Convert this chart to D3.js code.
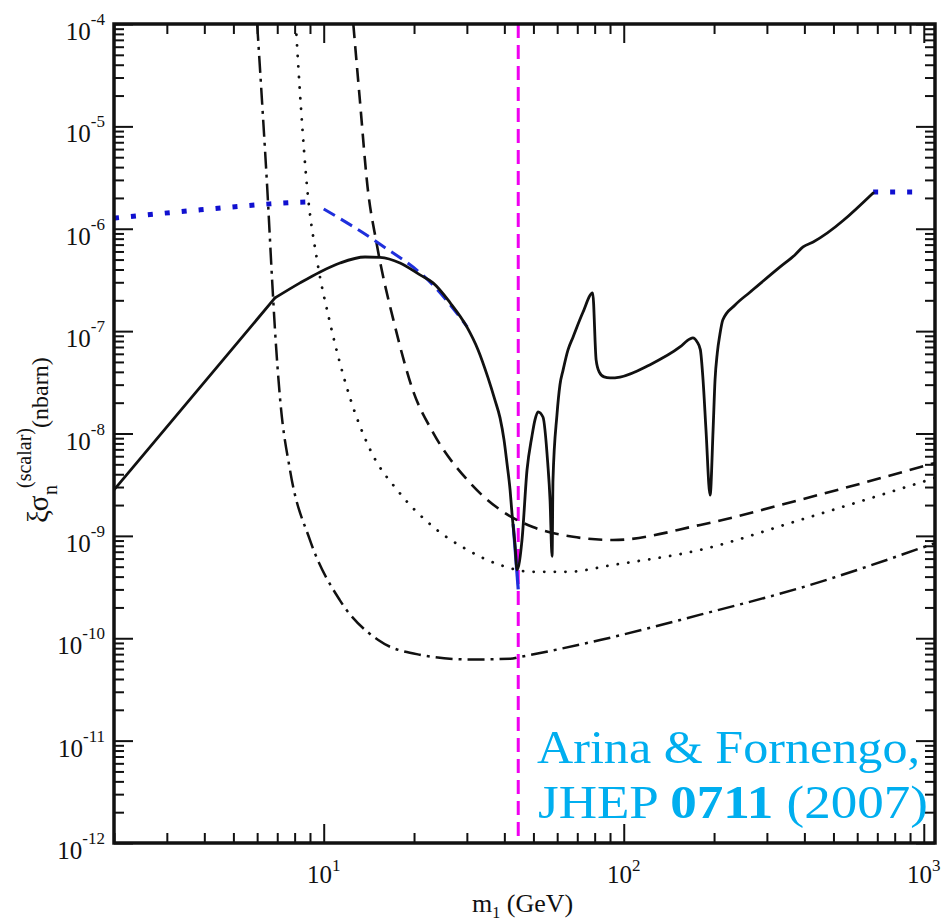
<!DOCTYPE html>
<html>
<head>
<meta charset="utf-8">
<script src="https://cdn.jsdelivr.net/npm/d3@7/dist/d3.min.js"></script>
<style>
  html, body { margin: 0; padding: 0; background: #fff; }
  svg { display: block; }
  text { font-family: "Liberation Serif", "Times New Roman", serif; fill: #111; }
</style>
</head>
<body>
<svg id="chart" width="949" height="920"></svg>
<script>
// ---- data: [mass in GeV, cross section in nbarn] ----
const solidCurve = [
  [2, 2.81e-9], [6.88, 2.11e-7], [8.34, 2.96e-7], [9.73, 3.79e-7], [11.33, 4.63e-7],
  [13.73, 5.30e-7], [15.4, 5.25e-7], [17.96, 4.63e-7], [20.94, 3.54e-7], [23.14, 2.96e-7],
  [26.4, 1.89e-7], [30.0, 1.10e-7], [32.7, 6.55e-8], [35.3, 3.49e-8], [37.2, 2.13e-8],
  [38.7, 1.42e-8], [39.9, 8.66e-9], [40.8, 5.16e-9], [41.8, 2.81e-9], [42.4, 1.68e-9],
  [43.4, 8.17e-10], [44.1, 4.66e-10], [45.8, 9.1e-10], [47.6, 4.4e-9], [49.4, 9.3e-9],
  [50.6, 1.36e-8], [51.8, 1.63e-8], [53.8, 1.45e-8], [55.8, 5.16e-9], [56.8, 2.25e-9],
  [57.7, 6.3e-10], [58.1, 3.52e-9], [59.9, 1.52e-8], [61.3, 2.99e-8], [62.8, 4.18e-8],
  [65.2, 6.55e-8], [67.8, 8.77e-8], [73.0, 1.51e-7], [78.8, 2.36e-7], [80.9, 5.24e-8],
  [82.8, 4.0e-8], [86.0, 3.57e-8], [90.0, 3.49e-8], [97.2, 3.56e-8], [122, 4.68e-8],
  [154, 7.0e-8], [166, 8.39e-8], [170, 8.6e-8], [175.6, 7.85e-8], [180, 6.6e-8],
  [183.8, 3.33e-8], [188, 1.08e-8], [194, 2.5e-9], [198.5, 1.08e-8], [201.5, 3.33e-8],
  [205, 6.1e-8], [209, 9.18e-8], [214, 1.29e-7], [235, 1.8e-7], [264, 2.41e-7],
  [332, 4.24e-7], [372, 5.55e-7], [396, 6.64e-7], [428, 7.43e-7], [678, 2.24e-6]
];
const blueDottedLow = [[2, 1.27e-6], [3.87, 1.53e-6], [6.62, 1.75e-6], [7.7, 1.8e-6], [9.5, 1.84e-6]];
const blueDashed = [[10, 1.56e-6], [15.2, 7.26e-7], [23.2, 2.8e-7], [30.1, 1.1e-7]];
const blueDip = [[42.8, 1.3e-9], [44.5, 3.0e-10]];
const blueDottedHigh = [[678, 2.29e-6], [950, 2.29e-6]];
const dashedCurve = [
  [12.55, 1e-4], [13.2, 1.8e-5], [14.0, 2.56e-6], [15.0, 7.26e-7], [17.3, 1.1e-7],
  [19.8, 2.67e-8], [23.2, 1.01e-8], [30.1, 3.52e-9], [38.7, 1.8e-9], [49.8, 1.22e-9],
  [67.8, 9.8e-10], [92, 9.1e-10], [180, 1.28e-9], [387, 2.25e-9], [1090, 5.16e-9]
];
const dottedCurve = [
  [8.07, 1e-4], [8.4, 1.5e-5], [8.8, 2.56e-6], [9.5, 4.95e-7], [10.5, 1.2e-7],
  [12.3, 2.13e-8], [14.3, 6.9e-9], [17.9, 2.63e-9], [23.2, 1.22e-9], [30.1, 7.3e-10],
  [38.7, 5.2e-10], [49.8, 4.45e-10], [64.8, 4.45e-10], [92, 5.2e-10], [180, 7.3e-10],
  [387, 1.43e-9], [1090, 3.68e-9]
];
const dashDotCurve = [
  [6.0, 1e-4], [6.25, 1.5e-5], [6.48, 2.56e-6], [6.73, 3.16e-7], [6.88, 1.03e-7],
  [7.16, 2.13e-8], [7.72, 4.4e-9], [9.0, 9.1e-10], [11.3, 2.37e-10], [15.2, 9.6e-11],
  [20.9, 6.9e-11], [30.7, 6.2e-11], [41.8, 6.3e-11], [45.5, 6.6e-11], [83.4, 9.6e-11],
  [180, 1.7e-10], [387, 3.1e-10], [1090, 8.5e-10]
];
const zHalfMass = 44.5;

// ---- axes ticks ----
const xTickExps = [1, 2, 3];
const yTickExps = [-12, -11, -10, -9, -8, -7, -6, -5, -4];
const xDomain = [2, 1090];
const yDomain = [1e-12, 1e-4];

const creditLine1 = "Arina & Fornengo,";
const creditLine2 = ["JHEP ", "0711", " (2007)"];

// ---- layout ----
const L = 114, R = 935, T = 24, B = 843;
const svg = d3.select("#chart");
const x = d3.scaleLog().domain(xDomain).range([L, R]);
const y = d3.scaleLog().domain(yDomain).range([B, T]);

svg.append("defs").append("clipPath").attr("id", "plotclip")
  .append("rect").attr("x", L).attr("y", T).attr("width", R - L).attr("height", B - T);

// minor/major tick values
const xMajor = xTickExps.map(e => Math.pow(10, e));
const xMinor = [];
for (let e = 0; e <= 3; e++) for (let k = 2; k <= 9; k++) {
  const v = k * Math.pow(10, e);
  if (v >= xDomain[0] && v <= xDomain[1]) xMinor.push(v);
}
const yMajor = yTickExps.map(e => Math.pow(10, e));
const yMinor = [];
for (let e = -12; e < -4; e++) for (let k = 2; k <= 9; k++) yMinor.push(k * Math.pow(10, e));

function tickAxis(axisFn, scale, values, size, transform) {
  const g = svg.append("g").attr("transform", transform)
    .call(axisFn(scale).tickValues(values).tickSize(-size).tickFormat(""));
  g.select(".domain").remove();
  g.selectAll(".tick line").attr("stroke", "#111").attr("stroke-width", 2);
}
tickAxis(d3.axisBottom, x, xMajor, 19, `translate(0,${B})`);
tickAxis(d3.axisBottom, x, xMinor, 10, `translate(0,${B})`);
tickAxis(d3.axisTop, x, xMajor, 19, `translate(0,${T})`);
tickAxis(d3.axisTop, x, xMinor, 10, `translate(0,${T})`);
tickAxis(d3.axisLeft, y, yMajor, 19, `translate(${L},0)`);
tickAxis(d3.axisLeft, y, yMinor, 10, `translate(${L},0)`);
tickAxis(d3.axisRight, y, yMajor, 19, `translate(${R},0)`);
tickAxis(d3.axisRight, y, yMinor, 10, `translate(${R},0)`);

// tick labels with superscript exponents
xTickExps.forEach(e => {
  const t = svg.append("text").attr("x", x(Math.pow(10, e))).attr("y", 883)
    .attr("text-anchor", "middle");
  t.append("tspan").attr("font-size", 25).text("10");
  t.append("tspan").attr("font-size", 17).attr("dy", -12).text(e);
});
yTickExps.forEach(e => {
  const t = svg.append("text").attr("x", 105).attr("y", y(Math.pow(10, e)) + 16)
    .attr("text-anchor", "end");
  t.append("tspan").attr("font-size", 25).text("10");
  t.append("tspan").attr("font-size", 17).attr("dy", -15).text("-" + Math.abs(e));
});

// axis titles
const xt = svg.append("text").attr("x", 472).attr("y", 912);
xt.append("tspan").attr("font-size", 26).text("m");
xt.append("tspan").attr("font-size", 16).attr("dy", 6).text("1");
xt.append("tspan").attr("font-size", 26).attr("dy", -6).text(" (GeV)");

const yt = svg.append("g").attr("transform", "translate(48,0) rotate(-90)");
yt.append("text").attr("x", -523).attr("y", 0).attr("font-size", 29).text("ξσ");
yt.append("text").attr("x", -495).attr("y", 9).attr("font-size", 20).text("n");
yt.append("text").attr("x", -488).attr("y", -17).attr("font-size", 20).text("(scalar)");
yt.append("text").attr("x", -428).attr("y", 0).attr("font-size", 24).text("(nbarn)");

// curves
const plot = svg.append("g").attr("clip-path", "url(#plotclip)");
const smooth = d3.line().x(d => x(d[0])).y(d => y(d[1])).curve(d3.curveMonotoneX);
const straight = d3.line().x(d => x(d[0])).y(d => y(d[1]));

plot.append("line")
  .attr("x1", x(zHalfMass)).attr("x2", x(zHalfMass)).attr("y1", T).attr("y2", B)
  .attr("stroke", "#f000f0").attr("stroke-width", 3).attr("stroke-dasharray", "14,7");

function draw(data, gen, opts) {
  plot.append("path").datum(data).attr("d", gen).attr("fill", "none")
    .attr("stroke", opts.color).attr("stroke-width", opts.width)
    .attr("stroke-dasharray", opts.dash || null)
    .attr("stroke-linecap", opts.cap || "butt")
    .attr("stroke-linejoin", "round");
}
draw(dashDotCurve, smooth, { color: "#111", width: 2.5, dash: "17,6,3,6" });
draw(dottedCurve, smooth, { color: "#111", width: 2.8, dash: "0.1,10.5", cap: "round" });
draw(dashedCurve, smooth, { color: "#111", width: 2.6, dash: "14,8" });
draw(blueDottedLow, smooth, { color: "#1010d0", width: 5, dash: "5,12" });
draw(blueDottedHigh, straight, { color: "#1010d0", width: 5, dash: "5,12" });
draw(blueDashed, smooth, { color: "#1f2fdc", width: 3, dash: "13,7" });
draw(blueDip, straight, { color: "#1f2fdc", width: 3.2 });
// the low-mass part is a straight power law up to the kink; the rest is smooth
draw(solidCurve.slice(0, 2), straight, { color: "#111", width: 2.8, cap: "round" });
draw(solidCurve.slice(1), smooth, { color: "#111", width: 2.8, cap: "round" });

// frame
svg.append("rect").attr("x", L).attr("y", T).attr("width", R - L).attr("height", B - T)
  .attr("fill", "none").attr("stroke", "#111").attr("stroke-width", 3.5);

// citation
const cred = svg.append("g").style("font-size", "46px");
cred.append("text").attr("x", 537).attr("y", 763).style("fill", "#00aeef")
  .attr("textLength", 383).attr("lengthAdjust", "spacingAndGlyphs").text(creditLine1);
const c2 = cred.append("text").attr("x", 538).attr("y", 818).style("fill", "#00aeef")
  .attr("textLength", 390).attr("lengthAdjust", "spacingAndGlyphs");
c2.append("tspan").text(creditLine2[0]);
c2.append("tspan").attr("font-weight", "bold").text(creditLine2[1]);
c2.append("tspan").text(creditLine2[2]);
</script>
</body>
</html>
